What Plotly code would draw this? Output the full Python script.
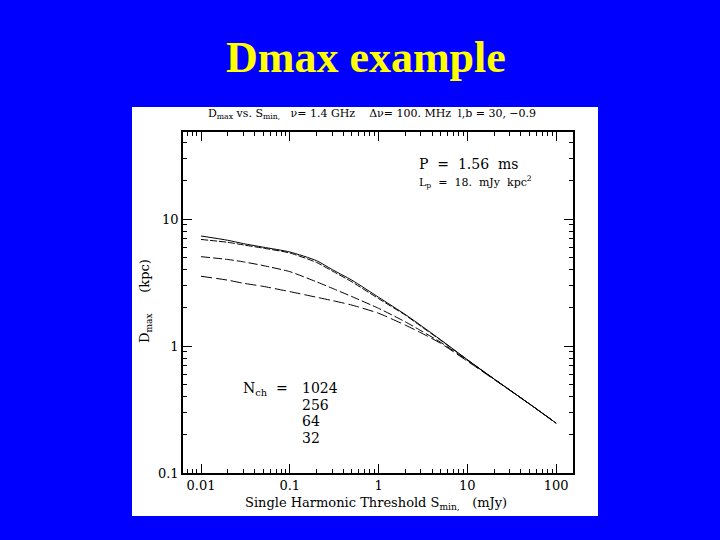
import plotly.graph_objects as go

# ---- data ----
s_min = [0.01, 0.02, 0.03, 0.05, 0.1, 0.2, 0.3, 0.5, 1, 2, 3, 5, 10, 20, 50, 100]
d_1024 = [7.35, 6.8, 6.4, 6.0, 5.5, 4.7, 4.0, 3.3, 2.42, 1.77, 1.45, 1.12, 0.78, 0.55, 0.35, 0.247]
d_256 = [6.9, 6.55, 6.25, 5.9, 5.4, 4.55, 3.9, 3.2, 2.36, 1.75, 1.43, 1.11, 0.78, 0.55, 0.35, 0.247]
d_64 = [5.05, 4.8, 4.6, 4.3, 3.85, 3.2, 2.85, 2.45, 1.98, 1.55, 1.32, 1.07, 0.77, 0.55, 0.35, 0.247]
d_32 = [3.54, 3.3, 3.12, 2.95, 2.68, 2.42, 2.28, 2.1, 1.81, 1.46, 1.27, 1.05, 0.76, 0.545, 0.35, 0.247]
series_names = ["1024", "256", "64", "32"]
x_tick_vals = [0.01, 0.1, 1, 10, 100]
x_tick_text = ["0.01", "0.1", "1", "10", "100"]
y_tick_vals = [0.1, 1, 10]
y_tick_text = ["0.1", "1", "10"]

# ---- geometry helpers (pixel -> paper) ----
L, R, T, B = 183, 573, 132, 473
W, H = 720, 540
def px(x):
    return (x - L) / (R - L)
def py(y):
    return (B - y) / (B - T)

fig = go.Figure()
dashes = ["solid", "7px,2px", "9px,3px", "11px,4px"]
for d, name, dash in zip([d_1024, d_256, d_64, d_32], series_names, dashes):
    fig.add_trace(go.Scatter(x=s_min, y=d, mode="lines", name=name,
                             line=dict(color="black", width=1, dash=dash, shape="spline", smoothing=0.6),
                             showlegend=False))

minor_x = []
for e in [0.001, 0.01, 0.1, 1, 10, 100]:
    for k in range(2, 10):
        v = e * k
        if 0.0063 <= v <= 155:
            minor_x.append(v)
minor_y = []
for e in [0.1, 1, 10]:
    for k in range(2, 10):
        v = e * k
        if v <= 48:
            minor_y.append(v)

axis_font = dict(family="DejaVu Serif", size=13, color="black")
fig.update_xaxes(type="log", range=[-2.203, 2.19], tickmode="array", tickvals=x_tick_vals,
                 ticktext=x_tick_text, ticks="inside", ticklen=9, tickcolor="black", tickwidth=1,
                 showline=True, linecolor="black", linewidth=1.5, mirror="ticks",
                 showgrid=False, zeroline=False, tickfont=axis_font,
                 minor=dict(ticks="inside", ticklen=4, tickvals=minor_x, tickcolor="black", showgrid=False))
fig.update_yaxes(type="log", range=[-1, 1.685], tickmode="array", tickvals=y_tick_vals,
                 ticktext=y_tick_text, ticks="inside", ticklen=9, tickcolor="black", tickwidth=1,
                 showline=True, linecolor="black", linewidth=1.5, mirror="ticks",
                 showgrid=False, zeroline=False, tickfont=axis_font,
                 minor=dict(ticks="inside", ticklen=4, tickvals=minor_y, tickcolor="black", showgrid=False))

# white panel behind the plot
fig.add_shape(type="rect", xref="paper", yref="paper",
              x0=px(132), x1=px(598), y0=py(516), y1=py(107),
              fillcolor="white", line=dict(width=0), layer="below")

ann = []
def text(x, y, t, size=13, xanchor="left", family="DejaVu Serif", color="black", angle=0, **kw):
    ann.append(dict(x=px(x), y=py(y), xref="paper", yref="paper", text=t, showarrow=False,
                    xanchor=xanchor, yanchor="middle", textangle=angle,
                    font=dict(family=family, size=size, color=color), **kw))

text(366, 58, "<b>Dmax example</b>", size=44, xanchor="center", family="Liberation Serif", color="#ffff00")
text(372, 114, "D<sub>max</sub> vs. S<sub>min,</sub>   ν= 1.4 GHz    Δν= 100. MHz  l,b = 30, −0.9",
     size=11, xanchor="center")
text(417, 164, "P  =  1.56  ms", size=14)
text(417, 182, "L<sub>p</sub>  =  18.  mJy  kpc<sup>2</sup>", size=11)
text(241, 389, "N<sub>ch</sub>  =", size=14)
for i, name in enumerate(series_names):
    text(300, 388 + i * 16.7, name, size=14)
text(376, 503, "Single Harmonic Threshold S<sub>min,</sub>   (mJy)", size=13, xanchor="center")
text(145, 301, "D<sub>max</sub>     (kpc)", size=13, xanchor="center", angle=-90)

fig.update_layout(width=W, height=H, margin=dict(l=L, r=W - R, t=T, b=H - B),
                  paper_bgcolor="#0000ff", plot_bgcolor="white", annotations=ann,
                  showlegend=False)
fig.write_html("out.html", config={"displayModeBar": False},
               post_script="document.body.style.margin='0';document.body.style.background='#0000ff';"
                           "document.body.style.overflow='hidden';")
